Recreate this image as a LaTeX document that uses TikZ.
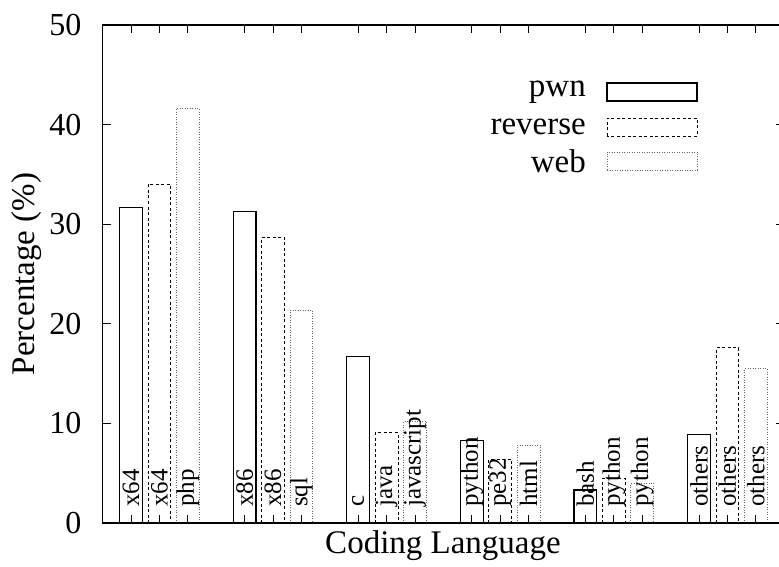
\documentclass[tikz,border=0pt]{standalone}
\usepackage{fontspec}
\setmainfont{Liberation Serif}
\begin{document}
\begin{tikzpicture}[x=1pt,y=1pt,
  pwnbar/.style={draw=black,line width=1.3pt},
  revbar/.style={draw=black,line width=0.9pt,dash pattern=on 3pt off 2.5pt},
  webbar/.style={draw=black!60,line width=0.9pt,dash pattern=on 1pt off 1.5pt},
  barlbl/.style={rotate=90,anchor=west,inner sep=0pt,font=\fontsize{25}{28}\selectfont},
  ticklbl/.style={anchor=east,inner sep=0pt,font=\fontsize{32}{36}\selectfont},
  axlbl/.style={font=\fontsize{33}{38}\selectfont,inner sep=0pt},
  leglbl/.style={anchor=east,inner sep=0pt,font=\fontsize{33}{38}\selectfont},
  tickline/.style={line width=1pt}]
\useasboundingbox (0,0) rectangle (779,566);
\clip (0,0) rectangle (779,566);
\begin{scope}[shift={(131pt,43pt)},x=28.4pt,y=9.96pt]
  % bars and labels
  \foreach \g/\j/\v/\t/\s in {
    0/0/31.7/x64/pwnbar, 0/1/34.0/x64/revbar, 0/2/41.6/php/webbar,
    1/0/31.3/x86/pwnbar, 1/1/28.7/x86/revbar, 1/2/21.3/sql/webbar,
    2/0/16.7/c/pwnbar, 2/1/9.1/java/revbar, 2/2/10.2/javascript/webbar,
    3/0/8.3/python/pwnbar, 3/1/6.4/pe32/revbar, 3/2/7.8/html/webbar,
    4/0/3.3/bash/pwnbar, 4/1/4.5/python/revbar, 4/2/4.0/python/webbar,
    5/0/8.9/others/pwnbar, 5/1/17.6/others/revbar, 5/2/15.5/others/webbar}{
    \pgfmathsetmacro\c{4*\g+\j}
    \draw[\s] ({\c-0.4},0) rectangle ({\c+0.4},\v);
    \node[barlbl] (lbl\g\j) at (\c,1.6) {\t};
  }
  % frame
  \draw[line width=1.3pt] (-1,0) rectangle (23,50);
  % x ticks
  \foreach \g in {0,...,5}{
    \foreach \j in {0,1,2}{
      \pgfmathsetmacro\c{4*\g+\j}
      \draw[tickline] (\c,0) -- ++(0,8pt);
      \draw[tickline] (\c,50) -- ++(0,-8pt);
    }
  }
  % y ticks
  \foreach \v in {10,20,30,40}{
    \draw[tickline] (-1,\v) -- ++(8pt,0);
    \draw[tickline] (23,\v) -- ++(-8pt,0);
  }
  \foreach \v in {0,10,20,30,40,50}{
    \node[ticklbl] (ytl\v) at (-1,\v) [xshift=-21pt] {\v};
  }
\end{scope}
% axis titles
\node[axlbl,rotate=90] (ylab) at (27,292) {Percentage (\%)};
\node[axlbl] (xlab) at (443,20) {Coding Language};
% legend
\node[leglbl] (lgpwn) at (586,474) {pwn};
\draw[pwnbar] (607,465) rectangle (697,483);
\node[leglbl] (lgrev) at (586,439) {reverse};
\draw[revbar] (607,430) rectangle (697,448);
\node[leglbl] (lgweb) at (586,405) {web};
\draw[webbar] (607,396) rectangle (697,414);
\end{tikzpicture}
\end{document}
